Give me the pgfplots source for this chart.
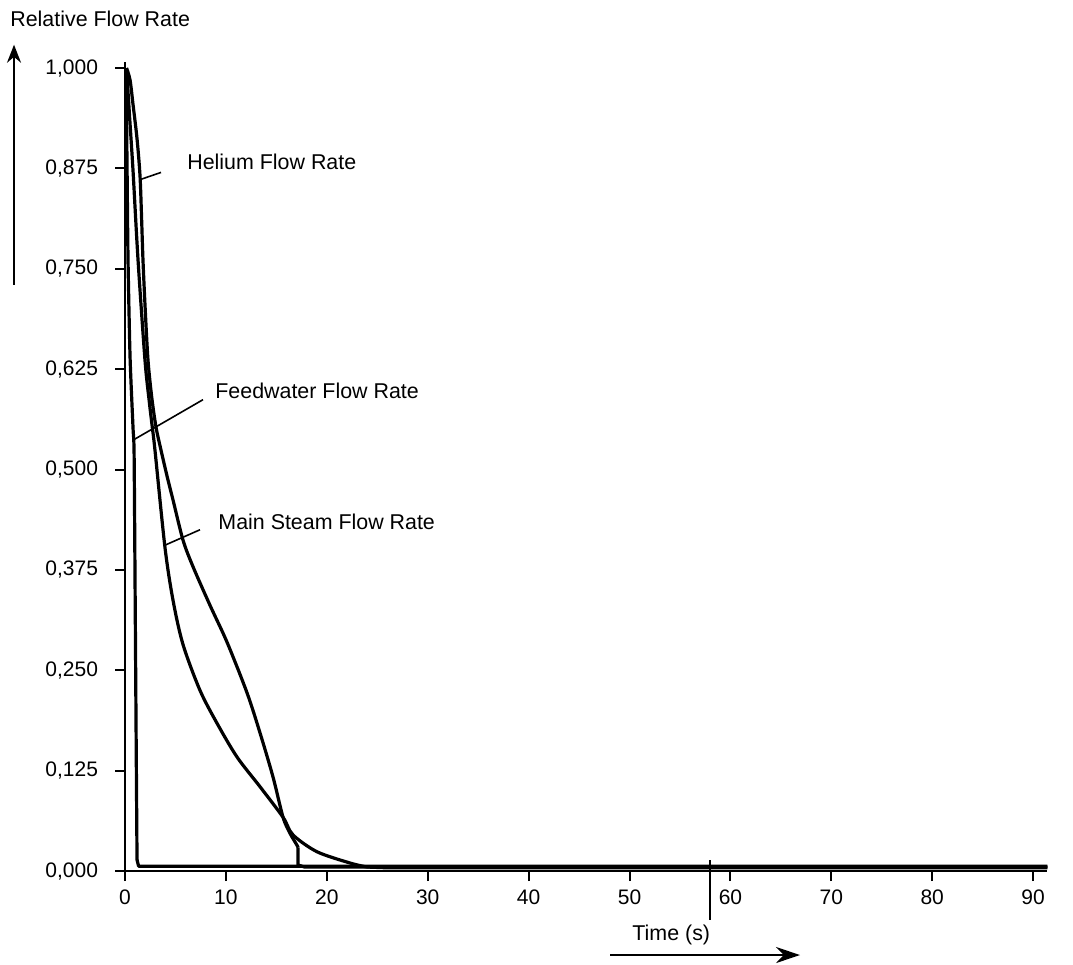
\documentclass[border=0pt]{standalone}
\usepackage{pgfplots}
\pgfplotsset{compat=1.18}
\usetikzlibrary{arrows.meta}
\usepackage{fontspec}
\setmainfont{Liberation Sans}
\begin{document}
\begin{tikzpicture}
\begin{axis}[
  scale only axis, width=461.1pt, height=404.5pt,
  xmin=0, xmax=91.4, ymin=0, ymax=1.0075,
  axis x line=bottom, axis y line=left,
  axis line style={line width=1pt, -},
  xtick={0,10,20,30,40,50,60,70,80,90},
  xticklabels={0,10,20,30,40,50,60,70,80,90},
  ytick={0,0.125,0.25,0.375,0.5,0.625,0.75,0.875,1},
  yticklabels={{0,000},{0,125},{0,250},{0,375},{0,500},{0,625},{0,750},{0,875},{1,000}},
  tick align=outside, major tick length=5pt,
  tick style={line width=1pt, black},
  ticklabel style={font=\fontsize{10.5}{12}\selectfont},
  yticklabel style={xshift=-5pt},
  xticklabel style={yshift=-1pt},
  clip=false,
]
% invisible frame for the whole picture
\path (axis cs:-12.39,1.0847) rectangle (axis cs:93.95,-0.1158);

% Feedwater flow rate
\addplot[black, line width=1.6pt, line join=round, smooth, tension=0.4] coordinates {
(0.1,1.0) (0.2,0.88) (0.3,0.76) (0.5,0.64) (0.79,0.553) (0.9,0.52)
(1.0,0.35) (1.1,0.17) (1.19,0.014)};
\addplot[black, line width=1.6pt, line join=round] coordinates {
(1.19,0.014) (1.35,0.006) (91.4,0.006)};

% Helium flow rate
\addplot[black, line width=1.6pt, smooth, tension=0.5] coordinates {
(0.15,1.0) (0.5,0.985) (0.79,0.955) (1.19,0.912) (1.49,0.865) (1.65,0.81)
(1.78,0.761) (2.0,0.70) (2.28,0.636) (2.65,0.59) (3.07,0.553) (3.57,0.524)
(4.2,0.49) (4.76,0.462) (5.75,0.412) (6.74,0.379) (8.42,0.331) (10.11,0.285)
(12.09,0.222) (13.38,0.172) (14.67,0.117) (15.66,0.067) (16.35,0.047)
(17.05,0.032) (17.15,0.029)};
\addplot[black, line width=1.6pt, line join=round] coordinates {
(17.15,0.029) (17.15,0.0075) (17.8,0.005) (91.4,0.005)};

% Main steam flow rate
\addplot[black, line width=1.6pt, smooth, tension=0.5] coordinates {
(0.15,1.0) (0.45,0.94) (0.79,0.873) (1.29,0.761) (1.98,0.636) (2.4,0.585)
(2.7,0.553) (2.97,0.524) (3.96,0.403) (4.76,0.337) (5.75,0.282)
(7.43,0.225) (9.12,0.184) (11.10,0.142) (13.38,0.105) (15.66,0.067)
(16.65,0.045) (19.03,0.024) (22.3,0.010) (23.98,0.005)};
\addplot[black, line width=1.6pt] coordinates {
(23.98,0.005) (26,0.004) (91.4,0.004)};

% annotations
\draw[line width=0.8pt] (axis cs:1.49,0.861) -- (axis cs:3.57,0.870);
\node[anchor=west, inner sep=0pt, font=\fontsize{10.7}{12}\selectfont] at (axis cs:6.14,0.883) {Helium Flow Rate};
\draw[line width=0.8pt] (axis cs:0.85,0.537) -- (axis cs:7.73,0.587);
\node[anchor=west, inner sep=0pt, font=\fontsize{10.7}{12}\selectfont] at (axis cs:8.92,0.598) {Feedwater Flow Rate};
\draw[line width=0.8pt] (axis cs:4.0,0.406) -- (axis cs:7.43,0.425);
\node[anchor=west, inner sep=0pt, font=\fontsize{10.7}{12}\selectfont] at (axis cs:9.22,0.435) {Main Steam Flow Rate};

\node[anchor=west, inner sep=0pt, font=\fontsize{10.7}{12}\selectfont] at (axis cs:-11.4,1.061) {Relative Flow Rate};
\draw[line width=1pt, -{Stealth[length=9pt,width=7pt]}] (axis cs:-11.0,0.730) -- (axis cs:-11.0,1.029);
\node[anchor=west, inner sep=0pt, font=\fontsize{10.7}{12}\selectfont] at (axis cs:50.25,-0.0797) {Time (s)};
\draw[line width=1.2pt, -{Stealth[length=12pt,width=8pt]}] (axis cs:48.07,-0.1046) -- (axis cs:66.9,-0.1046);
\draw[line width=0.6pt] (axis cs:57.98,0.0137) -- (axis cs:57.98,-0.061);
\end{axis}
\end{tikzpicture}
\end{document}
